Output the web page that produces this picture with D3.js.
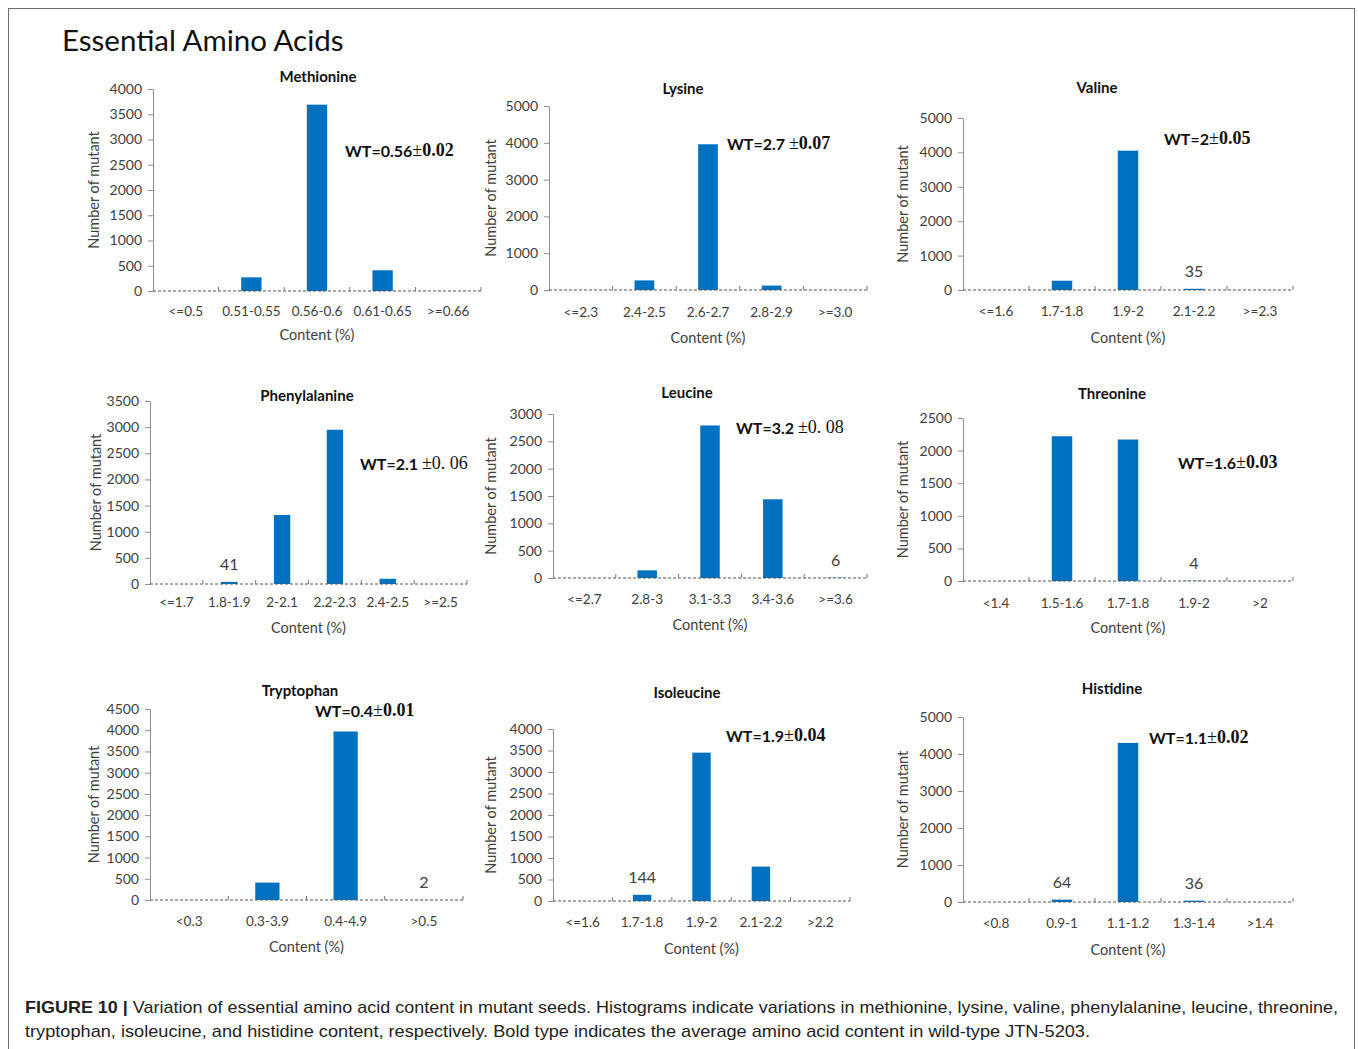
<!DOCTYPE html>
<html>
<head>
<meta charset="utf-8">
<script src="https://cdn.jsdelivr.net/npm/d3@7"></script>
<style>
  html, body { margin: 0; padding: 0; background: #fff; }
  svg { display: block; }
</style>
</head>
<body>
<script>
// ---- Histogram data: content bins and number of mutants per bin ----
const methionineBins = ["<=0.5", "0.51-0.55", "0.56-0.6", "0.61-0.65", ">=0.66"];
const methionineCounts = [0, 270, 3690, 410, 0];
const methionineTicks = [0, 500, 1000, 1500, 2000, 2500, 3000, 3500, 4000];

const lysineBins = ["<=2.3", "2.4-2.5", "2.6-2.7", "2.8-2.9", ">=3.0"];
const lysineCounts = [0, 260, 3960, 120, 0];
const lysineTicks = [0, 1000, 2000, 3000, 4000, 5000];

const valineBins = ["<=1.6", "1.7-1.8", "1.9-2", "2.1-2.2", ">=2.3"];
const valineCounts = [0, 270, 4050, 35, 0];
const valineTicks = [0, 1000, 2000, 3000, 4000, 5000];

const phenylalanineBins = ["<=1.7", "1.8-1.9", "2-2.1", "2.2-2.3", "2.4-2.5", ">=2.5"];
const phenylalanineCounts = [0, 41, 1320, 2950, 100, 0];
const phenylalanineTicks = [0, 500, 1000, 1500, 2000, 2500, 3000, 3500];

const leucineBins = ["<=2.7", "2.8-3", "3.1-3.3", "3.4-3.6", ">=3.6"];
const leucineCounts = [0, 140, 2790, 1440, 6];
const leucineTicks = [0, 500, 1000, 1500, 2000, 2500, 3000];

const threonineBins = ["<1.4", "1.5-1.6", "1.7-1.8", "1.9-2", ">2"];
const threonineCounts = [0, 2220, 2170, 4, 0];
const threonineTicks = [0, 500, 1000, 1500, 2000, 2500];

const tryptophanBins = ["<0.3", "0.3-3.9", "0.4-4.9", ">0.5"];
const tryptophanCounts = [0, 410, 3970, 2];
const tryptophanTicks = [0, 500, 1000, 1500, 2000, 2500, 3000, 3500, 4000, 4500];

const isoleucineBins = ["<=1.6", "1.7-1.8", "1.9-2", "2.1-2.2", ">2.2"];
const isoleucineCounts = [0, 144, 3450, 800, 0];
const isoleucineTicks = [0, 500, 1000, 1500, 2000, 2500, 3000, 3500, 4000];

const histidineBins = ["<0.8", "0.9-1", "1.1-1.2", "1.3-1.4", ">1.4"];
const histidineCounts = [0, 64, 4300, 36, 0];
const histidineTicks = [0, 1000, 2000, 3000, 4000, 5000];

// bins whose count is written above the bar
const labelledBins = [[], [], ["2.1-2.2"], ["1.8-1.9"], [">=3.6"], ["1.9-2"], [">0.5"], ["1.7-1.8"], ["0.9-1", "1.3-1.4"]];

// wild-type mean and standard deviation
const aminoAcids = ["Methionine", "Lysine", "Valine", "Phenylalanine", "Leucine", "Threonine", "Tryptophan", "Isoleucine", "Histidine"];
const wtMeans = ["WT=0.56", "WT=2.7 ", "WT=2", "WT=2.1 ", "WT=3.2 ", "WT=1.6", "WT=0.4", "WT=1.9", "WT=1.1"];
const wtSds = ["0.02", "0.07", "0.05", "0. 06", "0. 08", "0.03", "0.01", "0.04", "0.02"];

const binsList = [methionineBins, lysineBins, valineBins, phenylalanineBins, leucineBins, threonineBins, tryptophanBins, isoleucineBins, histidineBins];
const countsList = [methionineCounts, lysineCounts, valineCounts, phenylalanineCounts, leucineCounts, threonineCounts, tryptophanCounts, isoleucineCounts, histidineCounts];
const ticksList = [methionineTicks, lysineTicks, valineTicks, phenylalanineTicks, leucineTicks, threonineTicks, tryptophanTicks, isoleucineTicks, histidineTicks];

const pageTitle = "Essential Amino Acids";
const xAxisTitle = "Content (%)";
const yAxisTitle = "Number of mutant";
const captionHead = "FIGURE 10 |";
const captionLine1 = " Variation of essential amino acid content in mutant seeds. Histograms indicate variations in methionine, lysine, valine, phenylalanine, leucine, threonine,";
const captionLine2 = "tryptophan, isoleucine, and histidine content, respectively. Bold type indicates the average amino acid content in wild-type JTN-5203.";

// ---- Panel layout (plot box, title and annotation placement) ----
const layout = [
  { x0: 153, x1: 481, yTop: 89,  y0: 291, titleX: 318,  titleY: 76,  wtX: 345,  wtY: 150, ylabX: 93,  tickY: 311, contentY: 334, sdBold: true },
  { x0: 549, x1: 867, yTop: 106, y0: 290, titleX: 683,  titleY: 88,  wtX: 727,  wtY: 143, ylabX: 490, tickY: 312, contentY: 337, sdBold: true },
  { x0: 963, x1: 1293, yTop: 118, y0: 290, titleX: 1097, titleY: 87, wtX: 1164, wtY: 138, ylabX: 902, tickY: 311, contentY: 337, sdBold: true },
  { x0: 150, x1: 467, yTop: 401, y0: 584, titleX: 307,  titleY: 395, wtX: 360,  wtY: 463, ylabX: 95,  tickY: 602, contentY: 627, sdBold: false },
  { x0: 553, x1: 867, yTop: 414, y0: 578, titleX: 687,  titleY: 392, wtX: 736,  wtY: 427, ylabX: 490, tickY: 599, contentY: 624, sdBold: false },
  { x0: 963, x1: 1293, yTop: 418, y0: 581, titleX: 1112, titleY: 393, wtX: 1178, wtY: 462, ylabX: 902, tickY: 603, contentY: 627, sdBold: true },
  { x0: 150, x1: 463, yTop: 709, y0: 900, titleX: 300,  titleY: 690, wtX: 315,  wtY: 710, ylabX: 93,  tickY: 921, contentY: 946, sdBold: true },
  { x0: 553, x1: 850, yTop: 729, y0: 901, titleX: 687,  titleY: 692, wtX: 726,  wtY: 735, ylabX: 490, tickY: 922, contentY: 948, sdBold: true },
  { x0: 963, x1: 1293, yTop: 717, y0: 902, titleX: 1112, titleY: 688, wtX: 1149, wtY: 737, ylabX: 902, tickY: 923, contentY: 949, sdBold: true }
];

const SANS = "Lato, 'Open Sans', sans-serif";
const SERIF = "'Liberation Serif', 'DejaVu Serif', serif";
const BAR = "#0070c0";
const TEXT = "#404040";

const W = 1358, H = 1049;
const svg = d3.select("body").append("svg").attr("width", W).attr("height", H);

// outer frame
svg.append("rect")
  .attr("x", 8.5).attr("y", 8.5).attr("width", 1346).attr("height", 1100)
  .attr("fill", "none").attr("stroke", "#6e6e6e").attr("stroke-width", 1);

svg.append("text")
  .attr("x", 62).attr("y", 39)
  .attr("dominant-baseline", "central")
  .attr("font-family", SANS).attr("font-size", 29.5).attr("fill", "#111")
  .text(pageTitle);

function drawPanel(i) {
  const L = layout[i];
  const bins = binsList[i];
  const counts = countsList[i];
  const ticks = ticksList[i];
  const g = svg.append("g");

  const x = d3.scaleBand().domain(bins).range([L.x0, L.x1]).paddingInner(0.69).paddingOuter(0.345);
  const y = d3.scaleLinear().domain([0, d3.max(ticks)]).range([L.y0, L.yTop]);

  // value axis
  const ya = g.append("g")
    .attr("transform", `translate(${L.x0},0)`)
    .call(d3.axisLeft(y).tickValues(ticks).tickFormat(d3.format("d"))
      .tickSize(5).tickSizeOuter(0).tickPadding(6));
  ya.select(".domain").attr("stroke", "#8f8f8f");
  ya.selectAll(".tick line").attr("stroke", "#8f8f8f");
  ya.selectAll(".tick text")
    .attr("font-family", SANS).attr("font-size", 14).attr("fill", TEXT);

  // bars
  const rows = bins.map((b, k) => ({ bin: b, value: counts[k] }));
  g.selectAll("rect.bar").data(rows).join("rect")
    .attr("class", "bar")
    .attr("x", d => x(d.bin))
    .attr("width", x.bandwidth())
    .attr("y", d => y(d.value))
    .attr("height", d => y(0) - y(d.value))
    .attr("fill", BAR);

  // dashed category axis with boundary marks
  g.append("line")
    .attr("x1", L.x0).attr("x2", L.x1).attr("y1", y(0)).attr("y2", y(0))
    .attr("stroke", "#555").attr("stroke-width", 1).attr("stroke-dasharray", "3,2");
  const step = x.step();
  const bounds = d3.range(1, bins.length + 1).map(k => x.range()[0] + k * step);
  g.selectAll("line.bound").data(bounds).join("line")
    .attr("class", "bound")
    .attr("x1", d => d).attr("x2", d => d)
    .attr("y1", y(0) - 4).attr("y2", y(0))
    .attr("stroke", "#777").attr("stroke-width", 1);

  // category labels
  g.selectAll("text.cat").data(bins).join("text")
    .attr("class", "cat")
    .attr("x", d => x(d) + x.bandwidth() / 2)
    .attr("y", L.tickY)
    .attr("text-anchor", "middle").attr("dominant-baseline", "central")
    .attr("font-family", SANS).attr("font-size", 13.5).attr("fill", TEXT)
    .text(d => d);

  // count labels above small bars
  const lab = rows.filter(d => labelledBins[i].includes(d.bin));
  g.selectAll("text.count").data(lab).join("text")
    .attr("class", "count")
    .attr("x", d => x(d.bin) + x.bandwidth() / 2)
    .attr("y", d => y(d.value) - 18)
    .attr("text-anchor", "middle").attr("dominant-baseline", "central")
    .attr("font-family", SANS).attr("font-size", 16).attr("fill", TEXT)
    .text(d => d.value);

  // panel title
  g.append("text")
    .attr("x", L.titleX).attr("y", L.titleY)
    .attr("text-anchor", "middle").attr("dominant-baseline", "central")
    .attr("font-family", SANS).attr("font-weight", "bold").attr("font-size", 15).attr("fill", "#111")
    .text(aminoAcids[i]);

  // axis titles
  g.append("text")
    .attr("x", (L.x0 + L.x1) / 2).attr("y", L.contentY)
    .attr("text-anchor", "middle").attr("dominant-baseline", "central")
    .attr("font-family", SANS).attr("font-size", 14.5).attr("fill", TEXT)
    .text(xAxisTitle);
  g.append("text")
    .attr("transform", `translate(${L.ylabX},${(L.yTop + L.y0) / 2}) rotate(-90)`)
    .attr("text-anchor", "middle").attr("dominant-baseline", "central")
    .attr("font-family", SANS).attr("font-size", 14.5).attr("fill", TEXT)
    .text(yAxisTitle);

  // wild-type annotation
  const wt = g.append("text")
    .attr("x", L.wtX).attr("y", L.wtY)
    .attr("dominant-baseline", "central").attr("fill", "#111");
  wt.append("tspan").attr("font-family", SANS).attr("font-weight", "bold").attr("font-size", 16).text(wtMeans[i]);
  wt.append("tspan").attr("font-family", SERIF).attr("font-size", 18).text("\u00b1");
  wt.append("tspan").attr("font-family", SERIF).attr("font-weight", L.sdBold ? "bold" : "normal")
    .attr("font-size", 18).text(wtSds[i]);
}

d3.range(aminoAcids.length).forEach(drawPanel);

// figure caption
const cap1 = svg.append("text")
  .attr("x", 25).attr("y", 1007).attr("dominant-baseline", "central")
  .attr("font-family", "'Liberation Sans', Arial, sans-serif").attr("font-size", 17).attr("fill", "#222")
  .attr("textLength", 1313).attr("lengthAdjust", "spacingAndGlyphs");
cap1.append("tspan").attr("font-weight", "bold").text(captionHead);
cap1.append("tspan").text(captionLine1);
svg.append("text")
  .attr("x", 25).attr("y", 1031).attr("dominant-baseline", "central")
  .attr("font-family", "'Liberation Sans', Arial, sans-serif").attr("font-size", 17).attr("fill", "#222")
  .attr("textLength", 1065).attr("lengthAdjust", "spacingAndGlyphs")
  .text(captionLine2);
</script>
</body>
</html>
